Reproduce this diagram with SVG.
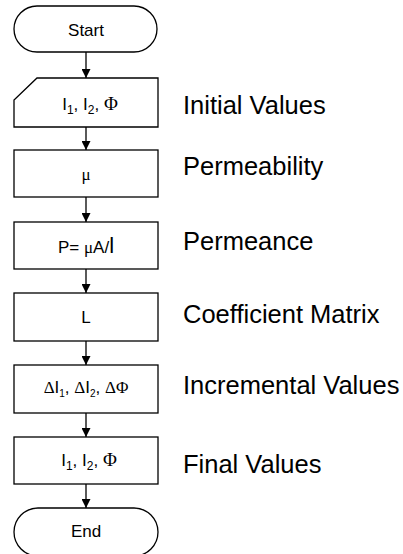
<svg xmlns="http://www.w3.org/2000/svg" width="403" height="554" viewBox="0 0 403 554">
<defs>
<marker id="ah" viewBox="0 0 10 10" refX="10" refY="5" markerWidth="9" markerHeight="9" markerUnits="userSpaceOnUse" orient="auto">
<path d="M0,0 L10,5 L0,10 Z" fill="#000"/>
</marker>
</defs>
<style>
.s{fill:#fff;stroke:#000;stroke-width:1.3}
.c{stroke:#000;stroke-width:1.3;fill:none;marker-end:url(#ah)}
.t{font-family:"Liberation Sans",Arial,sans-serif;font-size:17px;fill:#000;text-anchor:middle}
.g{font-family:"Liberation Serif","Times New Roman",serif}
.lb{font-family:"Liberation Sans",Arial,sans-serif;font-size:25.5px;fill:#000}
</style>
<rect width="403" height="554" fill="#fff"/>
<g id="connectors">
<line class="c" x1="86" y1="52" x2="86" y2="78"/>
<line class="c" x1="86" y1="127" x2="86" y2="150"/>
<line class="c" x1="86" y1="197" x2="86" y2="222"/>
<line class="c" x1="86" y1="269" x2="86" y2="293"/>
<line class="c" x1="86" y1="341" x2="86" y2="365"/>
<line class="c" x1="86" y1="413" x2="86" y2="437"/>
<line class="c" x1="86" y1="484" x2="86" y2="508"/>
</g>
<g id="start">
<rect class="s" x="14" y="6" width="143" height="46" rx="23" ry="23"/>
<text class="t" x="86" y="36">Start</text>
</g>
<g id="initial">
<polygon class="s" points="37,78 158,78 158,127 14,127 14,100"/>
<text class="t" x="90" y="110" font-size="18">I<tspan font-size="12" dy="4">1</tspan><tspan dy="-4">, I</tspan><tspan font-size="12" dy="4">2</tspan><tspan dy="-4">, </tspan><tspan class="g" font-size="19">Φ</tspan></text>
</g>
<g id="mu">
<rect class="s" x="14" y="150" width="144" height="47"/>
<text class="t g" x="86" y="180" font-size="15">μ</text>
</g>
<g id="permeance">
<rect class="s" x="14" y="222" width="144" height="47"/>
<text class="t" x="86" y="253" font-size="16">P= <tspan class="g">μ</tspan>A/<tspan font-size="22">l</tspan></text>
</g>
<g id="coef">
<rect class="s" x="14" y="293" width="144" height="48"/>
<text class="t" x="86" y="323" font-size="16">L</text>
</g>
<g id="incr">
<rect class="s" x="14" y="365" width="144" height="48"/>
<text class="t" x="86" y="393" font-size="15"><tspan class="g">Δ</tspan>I<tspan font-size="10" dy="4">1</tspan><tspan dy="-4">, </tspan><tspan class="g">Δ</tspan>I<tspan font-size="10" dy="4">2</tspan><tspan dy="-4">, </tspan><tspan class="g">ΔΦ</tspan></text>
</g>
<g id="final">
<rect class="s" x="14" y="437" width="144" height="47"/>
<text class="t" x="89" y="466" font-size="18">I<tspan font-size="12" dy="4">1</tspan><tspan dy="-4">, I</tspan><tspan font-size="12" dy="4">2</tspan><tspan dy="-4">, </tspan><tspan class="g" font-size="19">Φ</tspan></text>
</g>
<g id="end">
<rect class="s" x="14" y="508" width="144" height="48" rx="24" ry="24"/>
<text class="t" x="86" y="537">End</text>
</g>
<g id="labels">
<text class="lb" x="183" y="114">Initial Values</text>
<text class="lb" x="183" y="175">Permeability</text>
<text class="lb" x="183" y="250">Permeance</text>
<text class="lb" x="183" y="323">Coefficient Matrix</text>
<text class="lb" x="183" y="394">Incremental Values</text>
<text class="lb" x="183" y="473">Final Values</text>
</g>
</svg>
